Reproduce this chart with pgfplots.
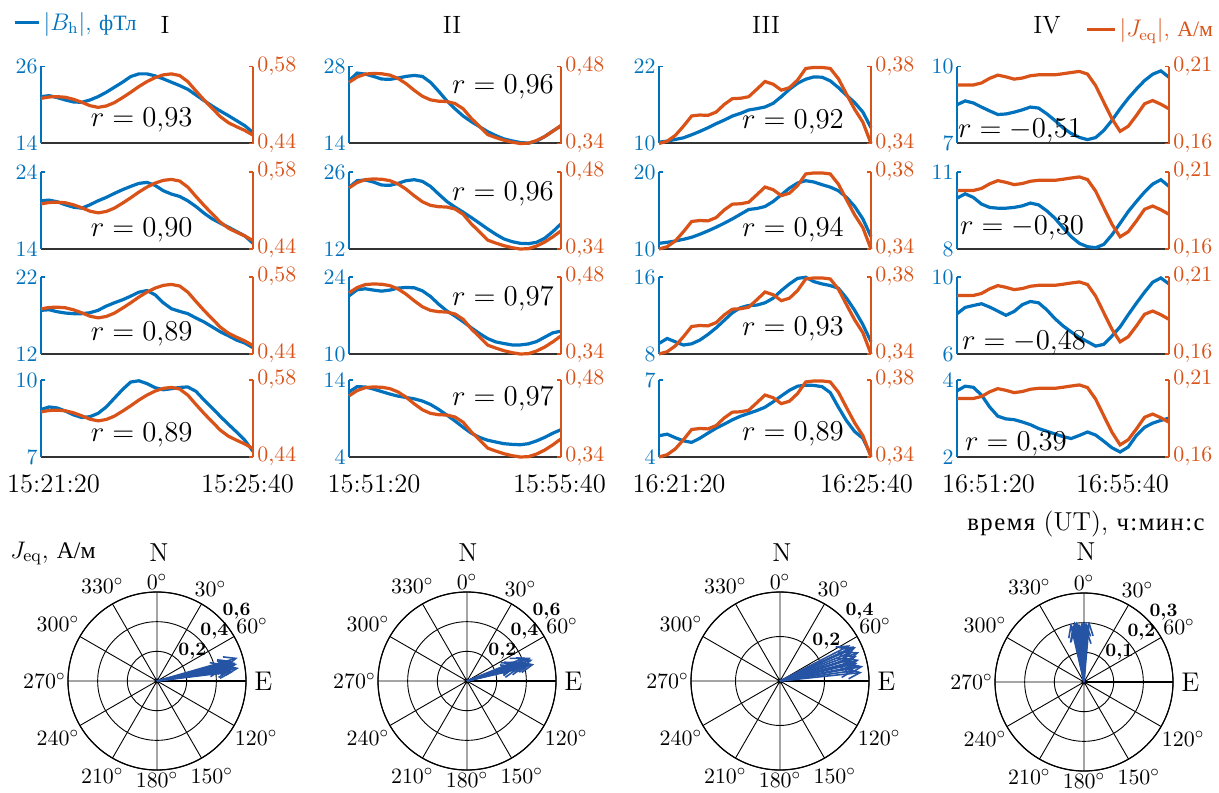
\documentclass[border=0pt]{standalone}
\usepackage{fontspec}
\usepackage{pgfplots}
\usepackage{pgfplotstable}
\pgfplotsset{compat=1.18}
\usepgfplotslibrary{polar}
\usetikzlibrary{arrows.meta}
\newfontfamily\cyr[Scale=0.95]{Liberation Serif}
\newfontfamily\cyrw[Scale=0.95,LetterSpace=6]{Liberation Serif}
\definecolor{mblue}{rgb}{0,0.447,0.741}
\definecolor{morange}{rgb}{0.85,0.325,0.098}
\definecolor{cblue}{RGB}{38,84,164}
\newcommand{\fs}[1]{\fontsize{#1}{#1}\selectfont}

\pgfplotstableread{
t b1 b2 b3 b4 j
0 21.30 20.26 17.67 8.85 0.5220
1 21.46 20.35 17.75 8.95 0.5246
2 21.15 20.13 17.49 8.91 0.5252
3 20.78 19.74 17.32 8.79 0.5240
4 20.47 19.43 17.24 8.64 0.5203
5 20.42 19.30 17.24 8.54 0.5149
6 20.78 19.74 17.36 8.57 0.5088
7 21.30 20.26 17.67 8.70 0.5057
8 21.98 20.70 18.22 8.95 0.5082
9 22.77 21.22 18.65 9.29 0.5143
10 23.55 21.70 19.04 9.63 0.5234
11 24.43 22.13 19.51 9.92 0.5331
12 24.85 22.52 20.03 9.97 0.5435
13 24.85 22.65 20.24 9.86 0.5526
14 24.54 22.26 19.68 9.70 0.5599
15 24.07 21.57 18.65 9.62 0.5648
16 23.55 21.13 17.88 9.66 0.5666
17 23.03 20.83 17.54 9.71 0.5636
18 22.45 20.26 17.24 9.73 0.5526
19 21.57 19.52 16.68 9.56 0.5356
20 20.68 18.65 16.16 9.22 0.5191
21 19.84 17.91 15.52 8.91 0.5039
22 19.06 17.35 14.88 8.58 0.4887
23 18.33 16.83 14.36 8.27 0.4777
24 17.55 16.26 13.80 7.97 0.4704
25 16.77 15.70 13.42 7.65 0.4637
26 15.72 14.74 12.82 7.22 0.4552
}\colA

\pgfplotstableread{
t b1 b2 b3 b4 j
0 25.42 23.20 20.58 12.45 0.4512
1 26.80 24.42 21.68 13.14 0.4608
2 26.62 24.54 21.86 13.09 0.4662
3 26.20 24.17 21.62 12.82 0.4674
4 25.72 23.63 21.43 12.50 0.4668
5 25.66 23.57 21.62 12.18 0.4644
6 25.90 23.93 21.98 11.91 0.4584
7 26.20 24.42 22.10 11.73 0.4488
8 26.38 24.60 22.04 11.55 0.4367
9 26.20 24.30 21.49 11.27 0.4259
10 25.12 23.38 20.45 10.82 0.4193
11 23.49 21.98 19.05 10.18 0.4169
12 21.75 20.64 17.83 9.45 0.4163
13 20.31 19.61 16.91 8.68 0.4127
14 18.99 18.70 15.87 7.86 0.4031
15 17.97 17.72 14.77 7.09 0.3857
16 17.07 16.69 13.73 6.55 0.3712
17 16.16 15.65 12.81 6.18 0.3562
18 15.44 14.68 12.20 5.95 0.3508
19 14.84 13.83 11.90 5.73 0.3460
20 14.48 13.34 11.65 5.64 0.3424
21 14.18 13.03 11.65 5.59 0.3400
22 14.06 12.97 11.83 5.73 0.3406
23 14.42 13.22 12.26 6.09 0.3454
24 15.26 13.95 13.06 6.55 0.3526
25 16.28 15.17 13.85 7.09 0.3622
26 17.18 16.57 14.16 7.55 0.3730
}\colB

\pgfplotstableread{
t b1 b2 b3 b4 j
0 10.21 10.74 9.10 4.83 0.3400
1 10.37 10.87 9.61 4.89 0.3412
2 10.63 11.04 9.27 4.75 0.3442
3 10.89 11.26 8.93 4.63 0.3490
4 11.36 11.52 9.06 4.57 0.3543
5 11.88 11.91 9.44 4.73 0.3548
6 12.45 12.35 10.03 4.93 0.3546
7 13.08 12.83 10.71 5.12 0.3563
8 13.65 13.35 11.50 5.28 0.3603
9 14.28 13.91 12.29 5.45 0.3633
10 14.70 14.52 12.81 5.59 0.3635
11 15.22 15.13 13.05 5.70 0.3643
12 15.43 15.26 13.08 5.81 0.3682
13 15.69 15.52 13.32 5.94 0.3722
14 16.26 16.17 13.80 6.15 0.3708
15 17.30 17.04 14.59 6.38 0.3677
16 18.45 17.91 15.28 6.60 0.3690
17 19.39 18.57 15.86 6.76 0.3730
18 20.02 18.87 15.97 6.80 0.3790
19 20.38 18.70 15.52 6.79 0.3795
20 20.33 18.35 15.28 6.74 0.3795
21 19.76 18.04 15.11 6.51 0.3790
22 18.71 17.57 14.83 5.94 0.3737
23 17.51 16.70 13.80 5.41 0.3656
24 16.37 15.52 12.53 4.99 0.3577
25 14.90 13.91 11.06 4.73 0.3511
26 12.45 11.61 9.27 4.07 0.3400
}\colC

\pgfplotstableread{
t b1 b2 b3 b4 j
0 8.51 9.98 8.09 3.72 0.1980
1 8.66 10.15 8.42 3.84 0.1980
2 8.58 10.01 8.52 3.81 0.1980
3 8.42 9.75 8.61 3.61 0.1993
4 8.27 9.62 8.44 3.30 0.2023
5 8.13 9.59 8.23 3.06 0.2044
6 8.15 9.59 8.01 2.99 0.2033
7 8.22 9.62 8.21 2.97 0.2018
8 8.31 9.68 8.56 2.91 0.2025
9 8.42 9.79 8.73 2.84 0.2040
10 8.38 9.72 8.66 2.74 0.2046
11 8.16 9.49 8.30 2.67 0.2046
12 7.90 9.20 7.84 2.60 0.2046
13 7.61 8.83 7.46 2.53 0.2053
14 7.39 8.48 7.15 2.48 0.2061
15 7.24 8.22 6.86 2.56 0.2068
16 7.15 8.09 6.64 2.65 0.2051
17 7.23 8.05 6.41 2.57 0.1976
18 7.51 8.18 6.50 2.41 0.1868
19 7.90 8.55 6.93 2.24 0.1761
20 8.35 9.00 7.41 2.13 0.1679
21 8.76 9.46 8.04 2.26 0.1712
22 9.12 9.85 8.64 2.56 0.1782
23 9.45 10.22 9.21 2.77 0.1858
24 9.70 10.53 9.73 2.88 0.1879
25 9.83 10.70 9.95 2.95 0.1855
26 9.58 10.44 9.64 3.01 0.1825
}\colD

\pgfplotsset{
  pgeom/.style={scale only axis, width=106pt, height=38.5pt, anchor=south west,
    xmin=0, xmax=26, clip=false},
  panelL/.style={pgeom, axis x line*=bottom, axis y line*=left, xtick=\empty,
    x axis line style={black!80, line width=1pt},
    y axis line style={mblue, line width=0.7pt},
    ytick align=inside, major tick length=2pt,
    ytick style={mblue, line width=0.6pt},
    yticklabel style={text=mblue, font=\fs{11}, inner sep=1.5pt}},
  panelR/.style={pgeom, axis x line=none, axis y line*=right,
    y axis line style={morange, line width=0.7pt},
    ytick align=inside, major tick length=2pt,
    ytick style={morange, line width=0.6pt},
    yticklabel style={text=morange, font=\fs{11}, inner sep=2pt,
      /pgf/number format/.cd, use comma, fixed, fixed zerofill, precision=2}},
  bline/.style={mblue, line width=1.6pt},
  oline/.style={morange, line width=1.6pt},
  pol/.style={scale only axis, width=89pt, height=89pt, anchor=center,
    xmin=0, xmax=360, ymin=0,
    xtick={0,30,...,330},
    xticklabels={{\hspace*{3pt}\fs{13.5}E},$60^\circ$,$30^\circ$,$0^\circ$,$330^\circ$,$300^\circ$,$270^\circ$,$240^\circ$,$210^\circ$,$180^\circ$,$150^\circ$,$120^\circ$},
    xticklabel style={font=\fs{11}, inner sep=1pt},
    yticklabels={,,,},
    grid=major, major grid style={black, line width=0.45pt},
    axis line style={black, line width=0.6pt},
    major tick length=0pt, tick style={draw=none}, clip=false},
  vec/.style={cblue, line width=0.8pt, -{Straight Barb[length=6pt, width=5pt]}},
}
\tikzset{rlab/.style={anchor=south west, inner sep=0pt, yshift=1pt, xshift=-0.5pt, font=\bfseries\fs{9.5}},
  every node/.append style={inner sep=0pt}}

\newcommand{\panel}[8]{%
\begin{axis}[panelL, at={(#1,#2)}, ymin=#5, ymax=#6, ytick={#5,#6}]
\addplot[bline] table[x=t,y=#4] {#3};
\end{axis}
\begin{axis}[panelR, at={(#1,#2)}, ymin=#7, ymax=#8, ytick={#7,#8}]
\addplot[oline] table[x=t,y=j] {#3};
\end{axis}}

\begin{document}
\begin{tikzpicture}
% ---- column I
\panel{20.5pt}{-71.75pt}{\colA}{b1}{14}{26}{0.44}{0.58}
\panel{20.5pt}{-124.5pt}{\colA}{b2}{14}{24}{0.44}{0.58}
\panel{20.5pt}{-177pt}{\colA}{b3}{12}{22}{0.44}{0.58}
\panel{20.5pt}{-228.5pt}{\colA}{b4}{7}{10}{0.44}{0.58}
% ---- column II
\panel{174.5pt}{-71.75pt}{\colB}{b1}{14}{28}{0.34}{0.48}
\panel{174.5pt}{-124.5pt}{\colB}{b2}{12}{26}{0.34}{0.48}
\panel{174.5pt}{-177pt}{\colB}{b3}{10}{24}{0.34}{0.48}
\panel{174.5pt}{-228.5pt}{\colB}{b4}{4}{14}{0.34}{0.48}
% ---- column III
\panel{329.5pt}{-71.75pt}{\colC}{b1}{10}{22}{0.34}{0.38}
\panel{329.5pt}{-124.5pt}{\colC}{b2}{10}{20}{0.34}{0.38}
\panel{329.5pt}{-177pt}{\colC}{b3}{8}{16}{0.34}{0.38}
\panel{329.5pt}{-228.5pt}{\colC}{b4}{4}{7}{0.34}{0.38}
% ---- column IV
\panel{478.5pt}{-71.75pt}{\colD}{b1}{7}{10}{0.16}{0.21}
\panel{478.5pt}{-124.5pt}{\colD}{b2}{8}{11}{0.16}{0.21}
\panel{478.5pt}{-177pt}{\colD}{b3}{6}{10}{0.16}{0.21}
\panel{478.5pt}{-228.5pt}{\colD}{b4}{2}{4}{0.16}{0.21}

% ---- legends
\begin{axis}[pgeom, at={(20.5pt,-71.75pt)}, hide axis, ymin=0, ymax=1,
  legend style={at={(-0.1315,1.57)}, anchor=west, draw=none, fill=none, inner sep=0pt,
    font=\fs{11.5}, text=mblue, nodes={inner sep=1.5pt}},
  legend image code/.code={\draw[#1] (0pt,0pt) -- (12pt,0pt);}]
\addlegendimage{bline}
\addlegendentry{$|B_\mathrm{h}|$, {\cyr фТл}}
\end{axis}
\begin{axis}[pgeom, at={(478.5pt,-71.75pt)}, hide axis, ymin=0, ymax=1,
  legend style={at={(0.604,1.484)}, anchor=west, draw=none, fill=none, inner sep=0pt,
    font=\fs{11.5}, text=morange, nodes={inner sep=1.5pt}},
  legend image code/.code={\draw[#1] (0pt,0pt) -- (14pt,0pt);}]
\addlegendimage{oline}
\addlegendentry{$|J_\mathrm{eq}|$, {\cyr А/м}}
\end{axis}

% ---- titles
\node[anchor=base, font=\fs{12.5}] at (82.5pt,-17pt) {I};
\node[anchor=base, font=\fs{12.5}] at (226pt,-17pt) {II};
\node[anchor=base, font=\fs{12.5}] at (383pt,-17pt) {III};
\node[anchor=base, font=\fs{12.5}] at (523.5pt,-17pt) {IV};

% ---- correlation labels
\node[anchor=base, font=\fs{14.5}] at (70.85pt,-63.25pt) {$r = 0{,}93$};
\node[anchor=base, font=\fs{14.5}] at (70.85pt,-118.25pt) {$r = 0{,}90$};
\node[anchor=base, font=\fs{14.5}] at (70.85pt,-170.25pt) {$r = 0{,}89$};
\node[anchor=base, font=\fs{14.5}] at (70.85pt,-220.75pt) {$r = 0{,}89$};
\node[anchor=base, font=\fs{14.5}] at (251.5pt,-46.75pt) {$r = 0{,}96$};
\node[anchor=base, font=\fs{14.5}] at (251.5pt,-100.25pt) {$r = 0{,}96$};
\node[anchor=base, font=\fs{14.5}] at (251.5pt,-152.75pt) {$r = 0{,}97$};
\node[anchor=base, font=\fs{14.5}] at (251.5pt,-202.75pt) {$r = 0{,}97$};
\node[anchor=base, font=\fs{14.5}] at (396.5pt,-64.25pt) {$r = 0{,}92$};
\node[anchor=base, font=\fs{14.5}] at (396.5pt,-118.25pt) {$r = 0{,}94$};
\node[anchor=base, font=\fs{14.5}] at (396.5pt,-167.75pt) {$r = 0{,}93$};
\node[anchor=base, font=\fs{14.5}] at (396.5pt,-220.25pt) {$r = 0{,}89$};
\node[anchor=base, font=\fs{14.5}] at (510pt,-68.75pt) {$r = -0{,}51$};
\node[anchor=base, font=\fs{14.5}] at (511pt,-117.25pt) {$r = -0{,}30$};
\node[anchor=base, font=\fs{14.5}] at (512pt,-174.75pt) {$r = -0{,}48$};
\node[anchor=base, font=\fs{14.5}] at (508pt,-225.25pt) {$r = 0{,}39$};

% ---- time labels
\node[anchor=base, font=\fs{13.3}] at (26.75pt,-246pt) {15:21:20};
\node[anchor=base, font=\fs{13.3}] at (123.75pt,-246pt) {15:25:40};
\node[anchor=base, font=\fs{13.3}] at (187pt,-246pt) {15:51:20};
\node[anchor=base, font=\fs{13.3}] at (279.75pt,-246pt) {15:55:40};
\node[anchor=base, font=\fs{13.3}] at (339.5pt,-246pt) {16:21:20};
\node[anchor=base, font=\fs{13.3}] at (433.25pt,-246pt) {16:25:40};
\node[anchor=base, font=\fs{13.3}] at (494.25pt,-246pt) {16:51:20};
\node[anchor=base, font=\fs{13.3}] at (561.25pt,-246pt) {16:55:40};

% ---- polar plots
\begin{polaraxis}[pol, at={(78.5pt,-340.5pt)}, ymax=0.6, ytick={0.2,0.4,0.6}]
\addplot[vec] coordinates {(0,0)(12,0.522)};
\addplot[vec] coordinates {(0,0)(10,0.525)};
\addplot[vec] coordinates {(0,0)(14,0.520)};
\addplot[vec] coordinates {(0,0)(8,0.509)};
\addplot[vec] coordinates {(0,0)(11,0.508)};
\addplot[vec] coordinates {(0,0)(15,0.523)};
\addplot[vec] coordinates {(0,0)(13,0.544)};
\addplot[vec] coordinates {(0,0)(9,0.560)};
\addplot[vec] coordinates {(0,0)(16,0.567)};
\addplot[vec] coordinates {(0,0)(12,0.553)};
\addplot[vec] coordinates {(0,0)(7,0.519)};
\addplot[vec] coordinates {(0,0)(11,0.489)};
\addplot[vec] coordinates {(0,0)(14,0.470)};
\addplot[vec] coordinates {(0,0)(10,0.455)};
\node[rlab] at (axis cs:42,0.2) {0,2};
\node[rlab] at (axis cs:42,0.4) {0,4};
\node[rlab] at (axis cs:42,0.6) {0,6};
\end{polaraxis}

\begin{polaraxis}[pol, at={(233.5pt,-340.5pt)}, ymax=0.6, ytick={0.2,0.4,0.6}]
\addplot[vec] coordinates {(0,0)(15,0.451)};
\addplot[vec] coordinates {(0,0)(18,0.466)};
\addplot[vec] coordinates {(0,0)(14,0.467)};
\addplot[vec] coordinates {(0,0)(20,0.458)};
\addplot[vec] coordinates {(0,0)(16,0.437)};
\addplot[vec] coordinates {(0,0)(22,0.419)};
\addplot[vec] coordinates {(0,0)(17,0.416)};
\addplot[vec] coordinates {(0,0)(14,0.403)};
\addplot[vec] coordinates {(0,0)(19,0.371)};
\addplot[vec] coordinates {(0,0)(21,0.351)};
\addplot[vec] coordinates {(0,0)(16,0.342)};
\addplot[vec] coordinates {(0,0)(18,0.341)};
\addplot[vec] coordinates {(0,0)(13,0.353)};
\addplot[vec] coordinates {(0,0)(20,0.373)};
\node[rlab] at (axis cs:42,0.2) {0,2};
\node[rlab] at (axis cs:42,0.4) {0,4};
\node[rlab] at (axis cs:42,0.6) {0,6};
\end{polaraxis}

\begin{polaraxis}[pol, at={(390pt,-340.5pt)}, ymax=0.4, ytick={0.2,0.4}]
\addplot[vec] coordinates {(0,0)(8,0.340)};
\addplot[vec] coordinates {(0,0)(14,0.344)};
\addplot[vec] coordinates {(0,0)(22,0.354)};
\addplot[vec] coordinates {(0,0)(27,0.355)};
\addplot[vec] coordinates {(0,0)(11,0.360)};
\addplot[vec] coordinates {(0,0)(18,0.364)};
\addplot[vec] coordinates {(0,0)(25,0.368)};
\addplot[vec] coordinates {(0,0)(6,0.371)};
\addplot[vec] coordinates {(0,0)(15,0.369)};
\addplot[vec] coordinates {(0,0)(20,0.379)};
\addplot[vec] coordinates {(0,0)(10,0.380)};
\addplot[vec] coordinates {(0,0)(24,0.374)};
\addplot[vec] coordinates {(0,0)(13,0.358)};
\addplot[vec] coordinates {(0,0)(17,0.340)};
\node[rlab] at (axis cs:42,0.2) {0,2};
\node[rlab] at (axis cs:42,0.4) {0,4};
\end{polaraxis}

\begin{polaraxis}[pol, at={(542pt,-341pt)}, ymax=0.3, ytick={0.1,0.2,0.3}]
\addplot[vec] coordinates {(0,0)(95,0.198)};
\addplot[vec] coordinates {(0,0)(100,0.198)};
\addplot[vec] coordinates {(0,0)(88,0.202)};
\addplot[vec] coordinates {(0,0)(103,0.203)};
\addplot[vec] coordinates {(0,0)(92,0.203)};
\addplot[vec] coordinates {(0,0)(97,0.205)};
\addplot[vec] coordinates {(0,0)(85,0.205)};
\addplot[vec] coordinates {(0,0)(99,0.207)};
\addplot[vec] coordinates {(0,0)(90,0.205)};
\addplot[vec] coordinates {(0,0)(102,0.187)};
\addplot[vec] coordinates {(0,0)(94,0.168)};
\addplot[vec] coordinates {(0,0)(87,0.178)};
\addplot[vec] coordinates {(0,0)(101,0.188)};
\addplot[vec] coordinates {(0,0)(96,0.183)};
\node[rlab] at (axis cs:42,0.1) {0,1};
\node[rlab] at (axis cs:42,0.2) {0,2};
\node[rlab] at (axis cs:42,0.3) {0,3};
\end{polaraxis}

% ---- polar labels
\node[anchor=base, font=\fs{13}] at (79.5pt,-280.5pt) {N};
\node[anchor=base, font=\fs{13}] at (234pt,-280.5pt) {N};
\node[anchor=base, font=\fs{13}] at (391pt,-280.5pt) {N};
\node[anchor=base, font=\fs{13}] at (543pt,-280pt) {N};
\node[anchor=base west, font=\fs{12.5}] at (5pt,-279pt) {$J_\mathrm{eq}$, {\cyr А/м}};
\node[anchor=base east, font=\fs{13}] at (602.5pt,-265pt) {{\cyrw время} (UT), {\cyrw ч:мин:с}};

\pgfresetboundingbox
\path[use as bounding box] (0pt,0pt) rectangle (609.5pt,-396pt);
\end{tikzpicture}
\end{document}
